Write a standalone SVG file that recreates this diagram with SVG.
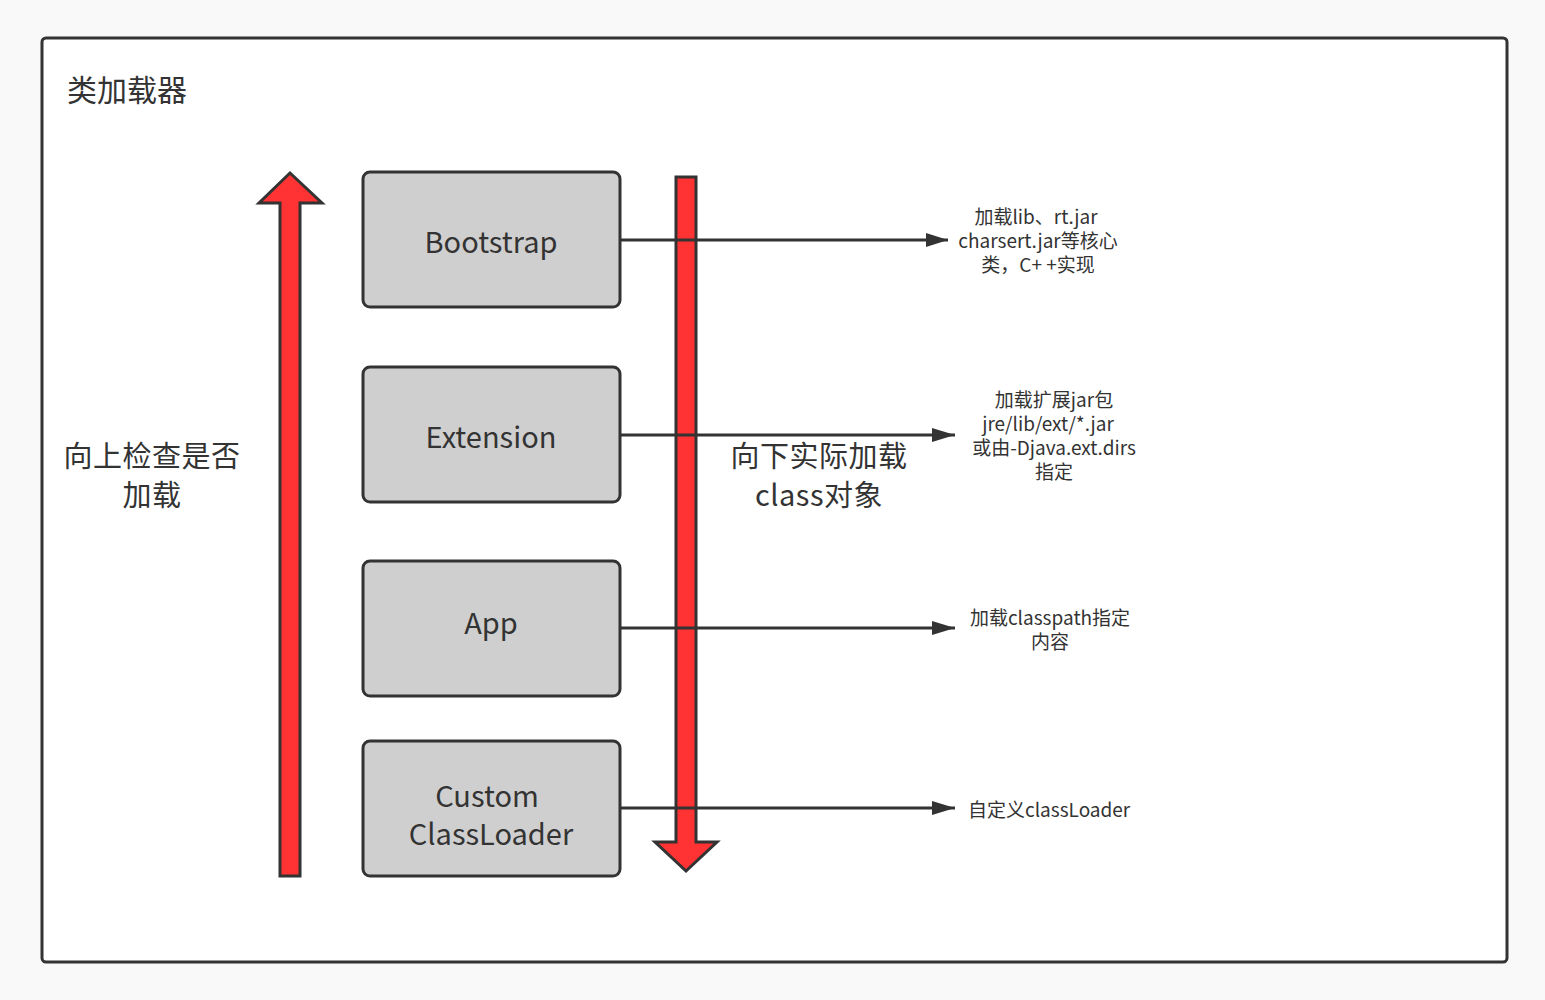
<svg xmlns="http://www.w3.org/2000/svg" width="1545" height="1000" viewBox="0 0 1545 1000">
<defs>
<style>
text{font-family:"Noto Sans CJK SC","Noto Sans",sans-serif;fill:#333333;}
.box{fill:#cfcfcf;stroke:#333333;stroke-width:3;}
.big{font-size:29px;text-anchor:middle;letter-spacing:0.5px;}
.node{font-size:29px;text-anchor:middle;}
.lbl{font-size:19px;text-anchor:middle;}
.con{stroke:#333333;stroke-width:3;fill:none;}
.red{fill:#ff3333;stroke:#333333;stroke-width:3;}
</style>
</defs>
<rect x="0" y="0" width="1545" height="1000" fill="#f9f9f9"/>
<g id="frame">
<rect x="42" y="38" width="1465" height="924" rx="4" fill="#ffffff" stroke="#333333" stroke-width="3"/>
<text x="67" y="101" style="font-size:30px">类加载器</text>
</g>
<g id="up-arrow">
<path class="red" d="M280,876 L280,203 L259,203 L290,173 L322,203 L300,203 L300,876 Z"/>
<text class="big" x="152" y="467">向上检查是否</text>
<text class="big" x="152" y="506">加载</text>
</g>
<g id="down-arrow">
<path class="red" d="M676,177 L696,177 L696,842 L717,842 L686,871 L655,842 L676,842 Z"/>
<text class="big" x="819" y="467">向下实际加载</text>
<text class="big" x="819" y="506">class对象</text>
</g>
<g id="connectors">
<line class="con" x1="620" y1="240" x2="948" y2="240"/>
<path d="M926,233 L948,240 L926,247 Z" fill="#333333"/>
<line class="con" x1="620" y1="435" x2="955" y2="435"/>
<path d="M932,428 L955,435 L932,442 Z" fill="#333333"/>
<line class="con" x1="620" y1="628" x2="955" y2="628"/>
<path d="M932,621 L955,628 L932,635 Z" fill="#333333"/>
<line class="con" x1="620" y1="808" x2="955" y2="808"/>
<path d="M932,801 L955,808 L932,815 Z" fill="#333333"/>
</g>
<g id="bootstrap">
<rect class="box" x="363" y="172" width="257" height="135" rx="7"/>
<text class="node" x="491" y="253">Bootstrap</text>
</g>
<g id="extension">
<rect class="box" x="363" y="367" width="257" height="135" rx="7"/>
<text class="node" x="491" y="448">Extension</text>
</g>
<g id="app">
<rect class="box" x="363" y="561" width="257" height="135" rx="7"/>
<text class="node" x="491" y="634">App</text>
</g>
<g id="custom">
<rect class="box" x="363" y="741" width="257" height="135" rx="7"/>
<text class="node" x="487" y="807">Custom</text>
<text class="node" x="491" y="845">ClassLoader</text>
</g>
<g id="label-bootstrap">
<text class="lbl" x="1036" y="224">加载lib、rt.jar</text>
<text class="lbl" x="1038" y="248">charsert.jar等核心</text>
<text class="lbl" x="1038" y="272">类，C+ +实现</text>
</g>
<g id="label-extension">
<text class="lbl" x="1054" y="407">加载扩展jar包</text>
<text class="lbl" x="1048" y="431">jre/lib/ext/*.jar</text>
<text class="lbl" x="1054" y="455">或由-Djava.ext.dirs</text>
<text class="lbl" x="1054" y="479">指定</text>
</g>
<g id="label-app">
<text class="lbl" x="1050" y="625">加载classpath指定</text>
<text class="lbl" x="1050" y="649">内容</text>
</g>
<g id="label-custom">
<text x="968" y="817" style="font-size:19px">自定义classLoader</text>
</g>
</svg>
